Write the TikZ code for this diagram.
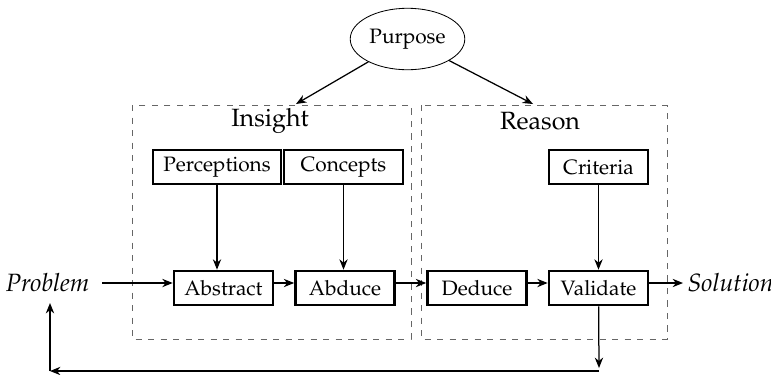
\documentclass[tikz,border=0pt]{standalone}
\usepackage[T1]{fontenc}
\usepackage{mathpazo}
\usetikzlibrary{arrows.meta,shapes.geometric,positioning}
\tikzset{
	stage/.style={
		% The shape:
		rectangle,minimum height=16.3pt,minimum width=47.5pt,
		inner xsep=5pt,
		% The border:
		line width=1.3pt,draw=black,
	}}
\tikzset{
	phase/.style={
		% dashed frame round a group of stages
		draw=black!60,dashed,thin,
	}}
\tikzset{
	flow/.style={-{Stealth[length=5pt,width=4pt]},semithick}
}

\begin{document}
\begin{tikzpicture}[x=0.48pt,y=-0.48pt]
	\useasboundingbox (0,0) rectangle (771,374);
	% frames
	\draw[phase] (132,105) rectangle (411,339);
	\draw[phase] (421,105) rectangle (667,339);
	\node (insight) at (270,121) {\large Insight};
	\node (reason) at (540,121) {\large Reason};
	\coordinate (insightTop) at (296,104);
	\coordinate (reasonTop) at (533,104);
	% nodes
	\node[ellipse,draw,thin,minimum width=55pt,minimum height=29.5pt,inner sep=0pt] (purpose) at (407.5,39) {Purpose};
	\node[stage] (perceptions) at (217,167) {Perceptions};
	\node[stage,minimum width=57pt] (concepts) at (343.5,167) {Concepts};
	\node[stage] (criteria) at (598.5,167) {Criteria};
	\node[stage] (abstract) at (223.5,288) {Abstract};
	\node[stage] (abduce) at (345,288) {Abduce};
	\node[stage] (deduce) at (477,288) {Deduce};
	\node[stage] (validate) at (598.5,288) {Validate};
	\node[inner xsep=6pt,inner ysep=5pt] (problem) at (47.5,283) {\large\textit{Problem}};
	\node[anchor=west,inner xsep=2pt] (solution) at (683,283) {\large\textit{Solution}};
	\coordinate (back1) at (599,368);
	\coordinate (back2) at (50,371);
	% connectors
	\draw[flow] (purpose) -- (insightTop);
	\draw[flow] (purpose) -- (reasonTop);
	\draw[flow] (perceptions) -- (perceptions |- abstract.north);
	\draw[flow] (concepts) -- (concepts |- abduce.north);
	\draw[flow] (criteria) -- (criteria |- validate.north);
	\draw[flow] (problem) -- (abstract.west |- problem);
	\draw[flow] (abstract.east |- problem) -- (abduce.west |- problem);
	\draw[flow] (abduce.east |- problem) -- (deduce.west |- problem);
	\draw[flow] (deduce.east |- problem) -- (validate.west |- problem);
	\draw[flow] (validate.east |- problem) -- (solution.west);
	\draw[flow] (validate) -- (back1);
	\draw[flow] (back1 |- back2) -- (back2);
	\draw[flow] (back2) -- (back2 |- problem.south);
\end{tikzpicture}
\end{document}
